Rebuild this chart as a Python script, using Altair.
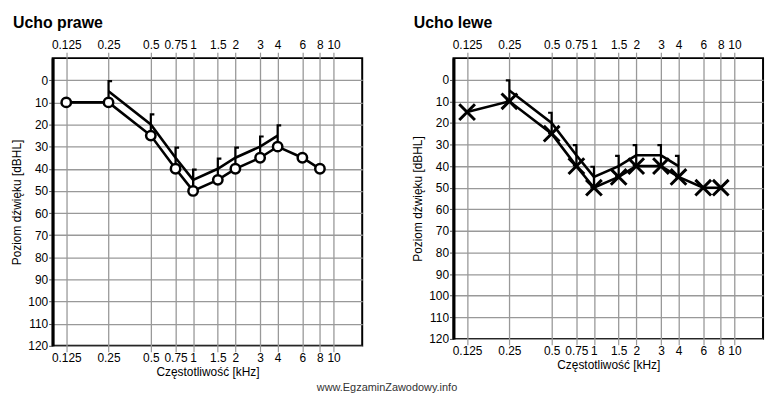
import altair as alt
import pandas as pd

FONT = "Liberation Sans"

# Frequencies (kHz)
freqs = [0.125, 0.25, 0.5, 0.75, 1, 1.5, 2, 3, 4, 6, 8]
bone_freqs = [0.25, 0.5, 0.75, 1, 1.5, 2, 3, 4]

# Right ear (Ucho prawe)
right_air = [10, 10, 25, 40, 50, 45, 40, 35, 30, 35, 40]
right_bone = [5, 20, 35, 45, 40, 35, 30, 25]

# Left ear (Ucho lewe)
left_air = [15, 10, 25, 40, 50, 45, 40, 40, 45, 50, 50]
left_bone = [5, 20, 35, 45, 40, 35, 35, 40]

x_ticks = [0.125, 0.25, 0.5, 0.75, 1, 1.5, 2, 3, 4, 6, 8, 10]
y_ticks = list(range(0, 121, 10))

CIRCLE = "circle"
XMARK = "M-1,-1L1,1M-1,1L1,-1"
BRACKET_L = "M0.35,-1L0,-1L0,1L0.35,1"
BRACKET_R = "M-0.35,-1L0,-1L0,1L-0.35,1"


def panel(title, air, bone, air_shape, air_size, air_sw, bone_shape, height):
    air_df = pd.DataFrame({"f": freqs, "db": air})
    bone_df = pd.DataFrame({"f": bone_freqs, "db": bone})
    xscale = alt.Scale(type="log", domain=[0.1, 16], nice=False)
    yscale = alt.Scale(domain=[-10, 120], reverse=True, nice=False, zero=False)

    common_x = dict(values=x_ticks, format="~g", labelOverlap=False, labelBound=False,
                    labelFont=FONT, labelFontSize=12, labelColor="black",
                    tickColor="#999999", tickSize=6, tickWidth=1.2,
                    domain=False, labelPadding=1)
    x_bottom = alt.X("f:Q", scale=xscale,
                     axis=alt.Axis(orient="bottom", title="Częstotliwość [kHz]",
                                   titleFont=FONT, titleFontSize=12, titleFontWeight="normal",
                                   titleColor="black", titlePadding=3,
                                   grid=True, gridColor="#999999", gridWidth=1.3,
                                   **common_x))
    x_top = alt.X("f:Q", scale=xscale,
                  axis=alt.Axis(orient="top", title=None, grid=False, **common_x))
    x_none = alt.X("f:Q", scale=xscale, axis=None)
    y = alt.Y("db:Q", scale=yscale,
              axis=alt.Axis(values=y_ticks, title="Poziom dźwięku [dBHL]",
                            titleFont=FONT, titleFontSize=12, titleFontWeight="normal",
                            titleColor="black", titlePadding=4,
                            labelFont=FONT, labelFontSize=12, labelColor="black",
                            labelPadding=1, tickColor="#555555", tickSize=4,
                            grid=True, gridColor="#999999", gridWidth=1.3,
                            domainColor="black", domainWidth=3))

    air_line = alt.Chart(air_df).mark_line(color="black", strokeWidth=2.6).encode(x=x_bottom, y=y)
    if air_shape == CIRCLE:
        air_mark = alt.Chart(air_df).mark_point(
            shape=air_shape, size=air_size, color="black", strokeWidth=air_sw,
            filled=False, fill="white", fillOpacity=1, opacity=1)
    else:
        air_mark = alt.Chart(air_df).mark_point(
            shape=air_shape, size=air_size, color="black", strokeWidth=air_sw,
            filled=False, opacity=1)
    air_pts = air_mark.encode(x=x_top, y=y)
    bone_line = alt.Chart(bone_df).mark_line(color="black", strokeWidth=2.6).encode(x=x_none, y=y)
    bone_pts = alt.Chart(bone_df).mark_point(
        shape=bone_shape, size=420, color="black", strokeWidth=2.2, filled=False, opacity=1
    ).encode(x=x_none, y=y)

    return alt.layer(air_line, bone_line, bone_pts, air_pts).resolve_axis(x="independent").properties(
        width=312, height=height,
        title=alt.TitleParams(title, anchor="start", frame="bounds", font=FONT, fontSize=16,
                              fontWeight="bold", color="black", offset=7, dx=2),
    )


left = panel("Ucho prawe", right_air, right_bone, CIRCLE, 90, 2.5, BRACKET_L, 290)
right = panel("Ucho lewe", left_air, left_bone, XMARK, 250, 3, BRACKET_R, 283)

chart = alt.hconcat(left, right, spacing=47).properties(
    title=alt.TitleParams("www.EgzaminZawodowy.info", orient="bottom", anchor="middle",
                          font=FONT, fontSize=11, fontWeight="normal", color="#333333", offset=3),
    padding={"left": 1, "top": 5, "right": 5, "bottom": 0},
    background="white",
).configure_view(stroke="black", strokeWidth=2)

chart.save("out.html", embed_options={"renderer": "svg", "actions": False})
